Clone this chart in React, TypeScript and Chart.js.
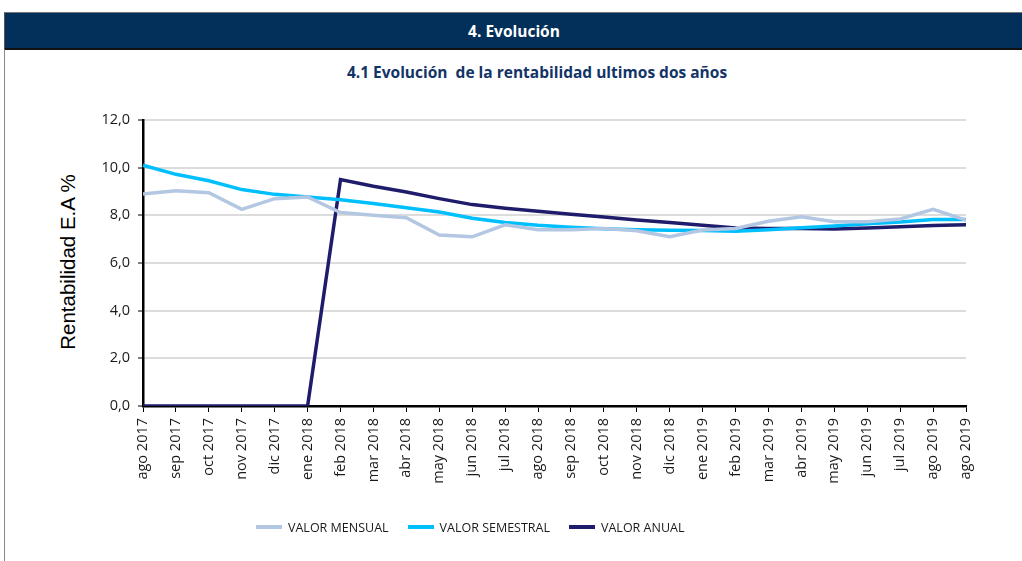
import React, { useEffect, useRef } from "react";
import { Chart, registerables } from "chart.js";

Chart.register(...registerables);

const categories = [
  "ago 2017", "sep 2017", "oct 2017", "nov 2017", "dic 2017", "ene 2018",
  "feb 2018", "mar 2018", "abr 2018", "may 2018", "jun 2018", "jul 2018",
  "ago 2018", "sep 2018", "oct 2018", "nov 2018", "dic 2018", "ene 2019",
  "feb 2019", "mar 2019", "abr 2019", "may 2019", "jun 2019", "jul 2019",
  "ago 2019", "ago 2019",
];

const valorMensual = [
  8.9, 9.03, 8.95, 8.25, 8.7, 8.77, 8.12, 8.0, 7.9, 7.17, 7.1, 7.6,
  7.4, 7.4, 7.45, 7.35, 7.1, 7.38, 7.45, 7.75, 7.94, 7.73, 7.73, 7.85,
  8.25, 7.8,
];

const valorSemestral = [
  10.1, 9.72, 9.45, 9.08, 8.88, 8.77, 8.65, 8.5, 8.32, 8.14, 7.88, 7.7,
  7.58, 7.5, 7.44, 7.4, 7.37, 7.36, 7.33, 7.4, 7.48, 7.55, 7.65, 7.72,
  7.82, 7.82,
];

const valorAnual = [
  0, 0, 0, 0, 0, 0, 9.5, 9.22, 8.98, 8.7, 8.45, 8.3,
  8.17, 8.05, 7.93, 7.8, 7.7, 7.58, 7.47, 7.45, 7.45, 7.43, 7.47, 7.52,
  7.57, 7.6,
];

const seriesNames = ["VALOR MENSUAL", "VALOR SEMESTRAL", "VALOR ANUAL"];
const seriesColors = ["#b4c7e2", "#00bfff", "#1f1c6b"];

const yMin = 0;
const yMax = 12;
const yStep = 2;

const W = 1022;
const H = 561;

export default function App() {
  const canvasRef = useRef<HTMLCanvasElement | null>(null);

  useEffect(() => {
    const canvas = canvasRef.current;
    if (!canvas) return;
    const chart = new Chart(canvas, {
      type: "line",
      data: {
        labels: categories,
        datasets: [valorMensual, valorSemestral, valorAnual].map((d, i) => ({
          label: seriesNames[i],
          data: d,
          borderColor: seriesColors[i],
          backgroundColor: seriesColors[i],
          borderWidth: 3.5,
          pointRadius: 0,
          tension: 0,
          fill: false,
        })),
      },
      options: {
        responsive: false,
        animation: false,
        layout: { padding: { left: 0, right: W - 966, top: 120, bottom: 71 } },
        plugins: {
          legend: { display: false },
          tooltip: { enabled: false },
          title: { display: false },
        },
        scales: {
          x: {
            offset: false,
            grid: {
              drawOnChartArea: false,
              drawTicks: true,
              tickLength: 6,
              tickColor: "#000",
              tickWidth: 1,
            },
            border: { color: "#000", width: 2.5 },
            ticks: {
              autoSkip: false,
              minRotation: 90,
              maxRotation: 90,
              padding: 6,
              color: "#1a1a1a",
              font: { family: "'Open Sans', sans-serif", size: 14.5 },
            },
            afterFit: (scale: any) => {
              scale.height = 84;
            },
          },
          y: {
            min: yMin,
            max: yMax,
            ticks: {
              stepSize: yStep,
              padding: 8,
              color: "#1a1a1a",
              font: { family: "'Open Sans', sans-serif", size: 14.5 },
              callback: (v: any) => Number(v).toFixed(1).replace(".", ","),
            },
            grid: {
              color: "#dcdcdc",
              lineWidth: 2,
              drawTicks: true,
              tickLength: 5,
              tickColor: "#000",
              tickWidth: 1,
            },
            border: { color: "#000", width: 2.5 },
            afterFit: (scale: any) => {
              scale.width = 143;
            },
          },
        },
      },
    });
    return () => chart.destroy();
  }, []);

  const legendItem = (i: number) => (
    <div key={i} style={{ display: "flex", alignItems: "center", marginRight: i < 2 ? 19 : 0 }}>
      <div style={{ width: 26, height: 4, background: seriesColors[i], marginRight: 6 }} />
      <span style={{ fontSize: 12.5, color: "#1a1a1a" }}>{seriesNames[i]}</span>
    </div>
  );

  return (
    <div
      style={{
        position: "fixed",
        left: 0,
        top: 0,
        width: W,
        height: H,
        background: "#fff",
        overflow: "hidden",
        fontFamily: "'Open Sans', sans-serif",
      }}
    >
      <div
        style={{
          position: "absolute",
          left: 4,
          top: 12,
          width: W - 4,
          height: 35,
          background: "#02305a",
          borderTop: "1px solid #777",
          borderBottom: "2px solid #111",
          borderLeft: "1px solid #555",
          color: "#fff",
          fontWeight: 700,
          fontSize: 15.5,
          display: "flex",
          alignItems: "center",
          justifyContent: "center",
        }}
      >
        4. Evolución
      </div>
      <div style={{ position: "absolute", left: 4, top: 49, width: 1, height: H - 49, background: "#888" }} />
      <div
        style={{
          position: "absolute",
          left: 0,
          width: 1074,
          top: 61,
          textAlign: "center",
          color: "#123466",
          fontWeight: 700,
          fontSize: 15.5,
        }}
      >
        4.1 Evolución&nbsp; de la rentabilidad ultimos dos años
      </div>
      <div
        style={{
          position: "absolute",
          left: 68,
          top: 262,
          transform: "translate(-50%, -50%) rotate(-90deg)",
          whiteSpace: "nowrap",
          fontFamily: "'Liberation Sans', Arial, sans-serif",
          fontSize: 20.5,
          color: "#000",
        }}
      >
        Rentabilidad E.A %
      </div>
      <canvas
        ref={canvasRef}
        width={W}
        height={H}
        style={{ position: "absolute", left: 0, top: 0, width: W, height: H }}
      />
      <div
        style={{
          position: "absolute",
          left: 256,
          top: 517,
          display: "flex",
          alignItems: "center",
          height: 20,
        }}
      >
        {[0, 1, 2].map(legendItem)}
      </div>
    </div>
  );
}
